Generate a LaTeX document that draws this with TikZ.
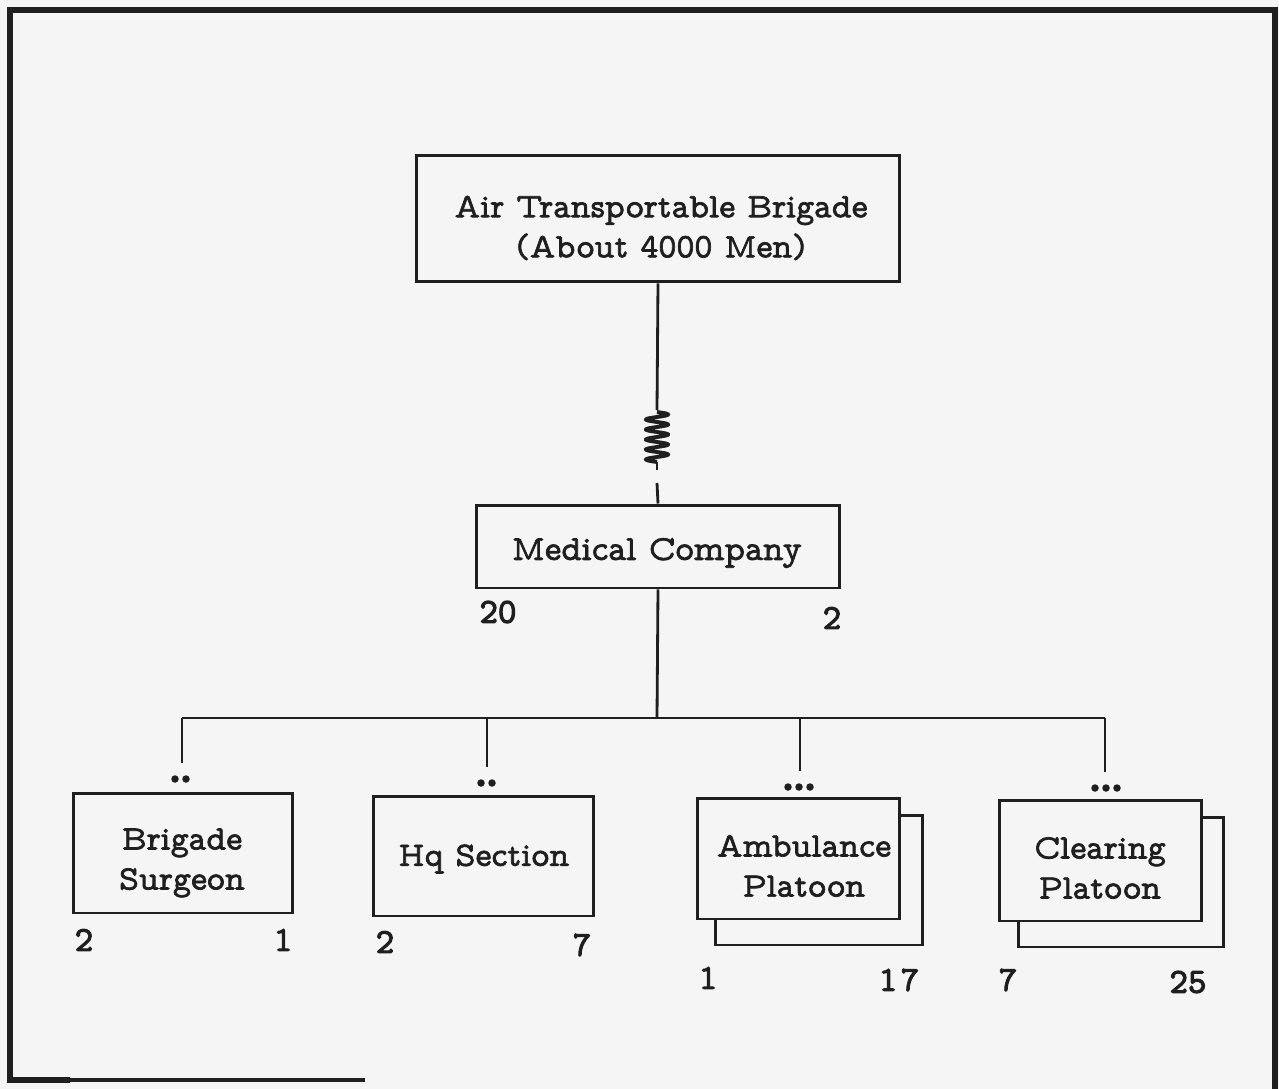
\documentclass[tikz,border=0pt]{standalone}
\usepackage{fontspec}
\newfontfamily\typer{lmmonoprop10-regular}[Extension=.otf,FakeBold=2]
\newfontfamily\typerheavy{lmmonoprop10-regular}[Extension=.otf,FakeBold=3]
\definecolor{inkc}{gray}{0.12}
\definecolor{paper}{gray}{0.96}
\newcommand{\boxfont}{\typer\fontsize{19.5}{22.8}\selectfont}
\newcommand{\headfont}{\typer\fontsize{19.5}{22.8}\selectfont}
\newcommand{\numfont}{\typerheavy\fontsize{20}{22}\selectfont}
\begin{document}
\begin{tikzpicture}[x=0.02cm,y=-0.02cm,
  wire/.style={draw=inkc,line width=1.6pt},
  box/.style={draw=inkc,line width=1.7pt,fill=paper,rectangle,inner sep=0pt},
  lbl/.style={text=inkc,align=center,inner sep=0pt,font=\boxfont},
  num/.style={text=inkc,inner sep=0pt,font=\numfont},
  pip/.style={circle,fill=inkc,inner sep=0pt,minimum size=0.15cm}]
% page and outer frame
\fill[paper] (0,0) rectangle (1279,1089);
\useasboundingbox (0,0) rectangle (1279,1089);
\draw[draw=inkc,line width=3.4pt] (1275,1089) -- (1275,10) -- (10,10) -- (10,1080) -- (70,1080);
\draw[draw=inkc,line width=2pt] (60,1080) -- (365,1080);

% boxes
\node[box,minimum width=9.68cm,minimum height=2.54cm] (top) at (658,218.5) {};
\node[box,minimum width=7.28cm,minimum height=1.66cm] (med) at (658,546.5) {};
\node[box,minimum width=4.4cm,minimum height=2.4cm] (bs) at (183,853) {};
\node[box,minimum width=4.42cm,minimum height=2.4cm] (hq) at (483.5,856) {};
\node[box,minimum width=4.16cm,minimum height=2.6cm] (ambB) at (819,880) {};
\node[box,minimum width=4.06cm,minimum height=2.42cm] (amb) at (798.5,858.5) {};
\node[box,minimum width=4.12cm,minimum height=2.6cm] (clrB) at (1121,882) {};
\node[box,minimum width=4.06cm,minimum height=2.42cm] (clr) at (1100.5,860.5) {};

% box texts
\node[lbl,font=\headfont] (topT) at (661,228) {Air Transportable Brigade\\(About 4000 Men)};
\node[lbl,font=\typer\fontsize{20}{22.8}\selectfont] (medT) at (657,553) {Medical Company};
\node[lbl] (bsT) at (182,863) {Brigade\\Surgeon};
\node[lbl] (hqT) at (484,859) {Hq Section};
\node[lbl] (ambT) at (804,866) {Ambulance\\Platoon};
\node[lbl] (clrT) at (1100,868) {Clearing\\Platoon};

% strength figures
\node[num] (medL) at (498,612) {20};
\node[num] (medR) at (832,618) {2};
\node[num] (bsL) at (84,940) {2};
\node[num] (bsR) at (283,940) {1};
\node[num] (hqL) at (385,942) {2};
\node[num] (hqR) at (582,945) {7};
\node[num] (ambL) at (708,978) {1};
\node[num] (ambR) at (899,980) {1\kern2pt7};
\node[num] (clrL) at (1008,980) {7};
\node[num] (clrR) at (1188,982) {25};

% attached link with coil
\coordinate (spT) at (657,410);
\coordinate (spB) at (657,470);
\coordinate (stub) at (657,483);
\draw[wire] (top.south) -- (spT);
\draw[wire,line width=2.2pt,domain=0:1800,samples=160,smooth]
  plot ({657+11*sin(\x)},{412+\x/1800*50});
\draw[wire] (657,462) -- (spB);
\draw[wire] (stub) -- (med.north);

% distribution bus
\coordinate (bus) at (657,718);
\coordinate (bBs) at (182,718);
\coordinate (bHq) at (487,718);
\coordinate (bAmb) at (800,718);
\coordinate (bClr) at (1105,718);
\draw[wire] (med.south) -- (bus);
\draw[wire] (bBs) -- (bClr);

% unit size pips
\node[pip] (bs1) at (175,779) {};
\node[pip] (bs2) at (186,779) {};
\node[pip] (hq1) at (481,783) {};
\node[pip] (hq2) at (492,783) {};
\node[pip] (amb1) at (788,787) {};
\node[pip] (amb2) at (799,787) {};
\node[pip] (amb3) at (810,787) {};
\node[pip] (clr1) at (1095,788) {};
\node[pip] (clr2) at (1106,788) {};
\node[pip] (clr3) at (1117,788) {};

\draw[wire] (bBs) -- (182,763);
\draw[wire] (bHq) -- (487,767);
\draw[wire] (bAmb) -- (800,771);
\draw[wire] (bClr) -- (1105,772);
\end{tikzpicture}
\end{document}
